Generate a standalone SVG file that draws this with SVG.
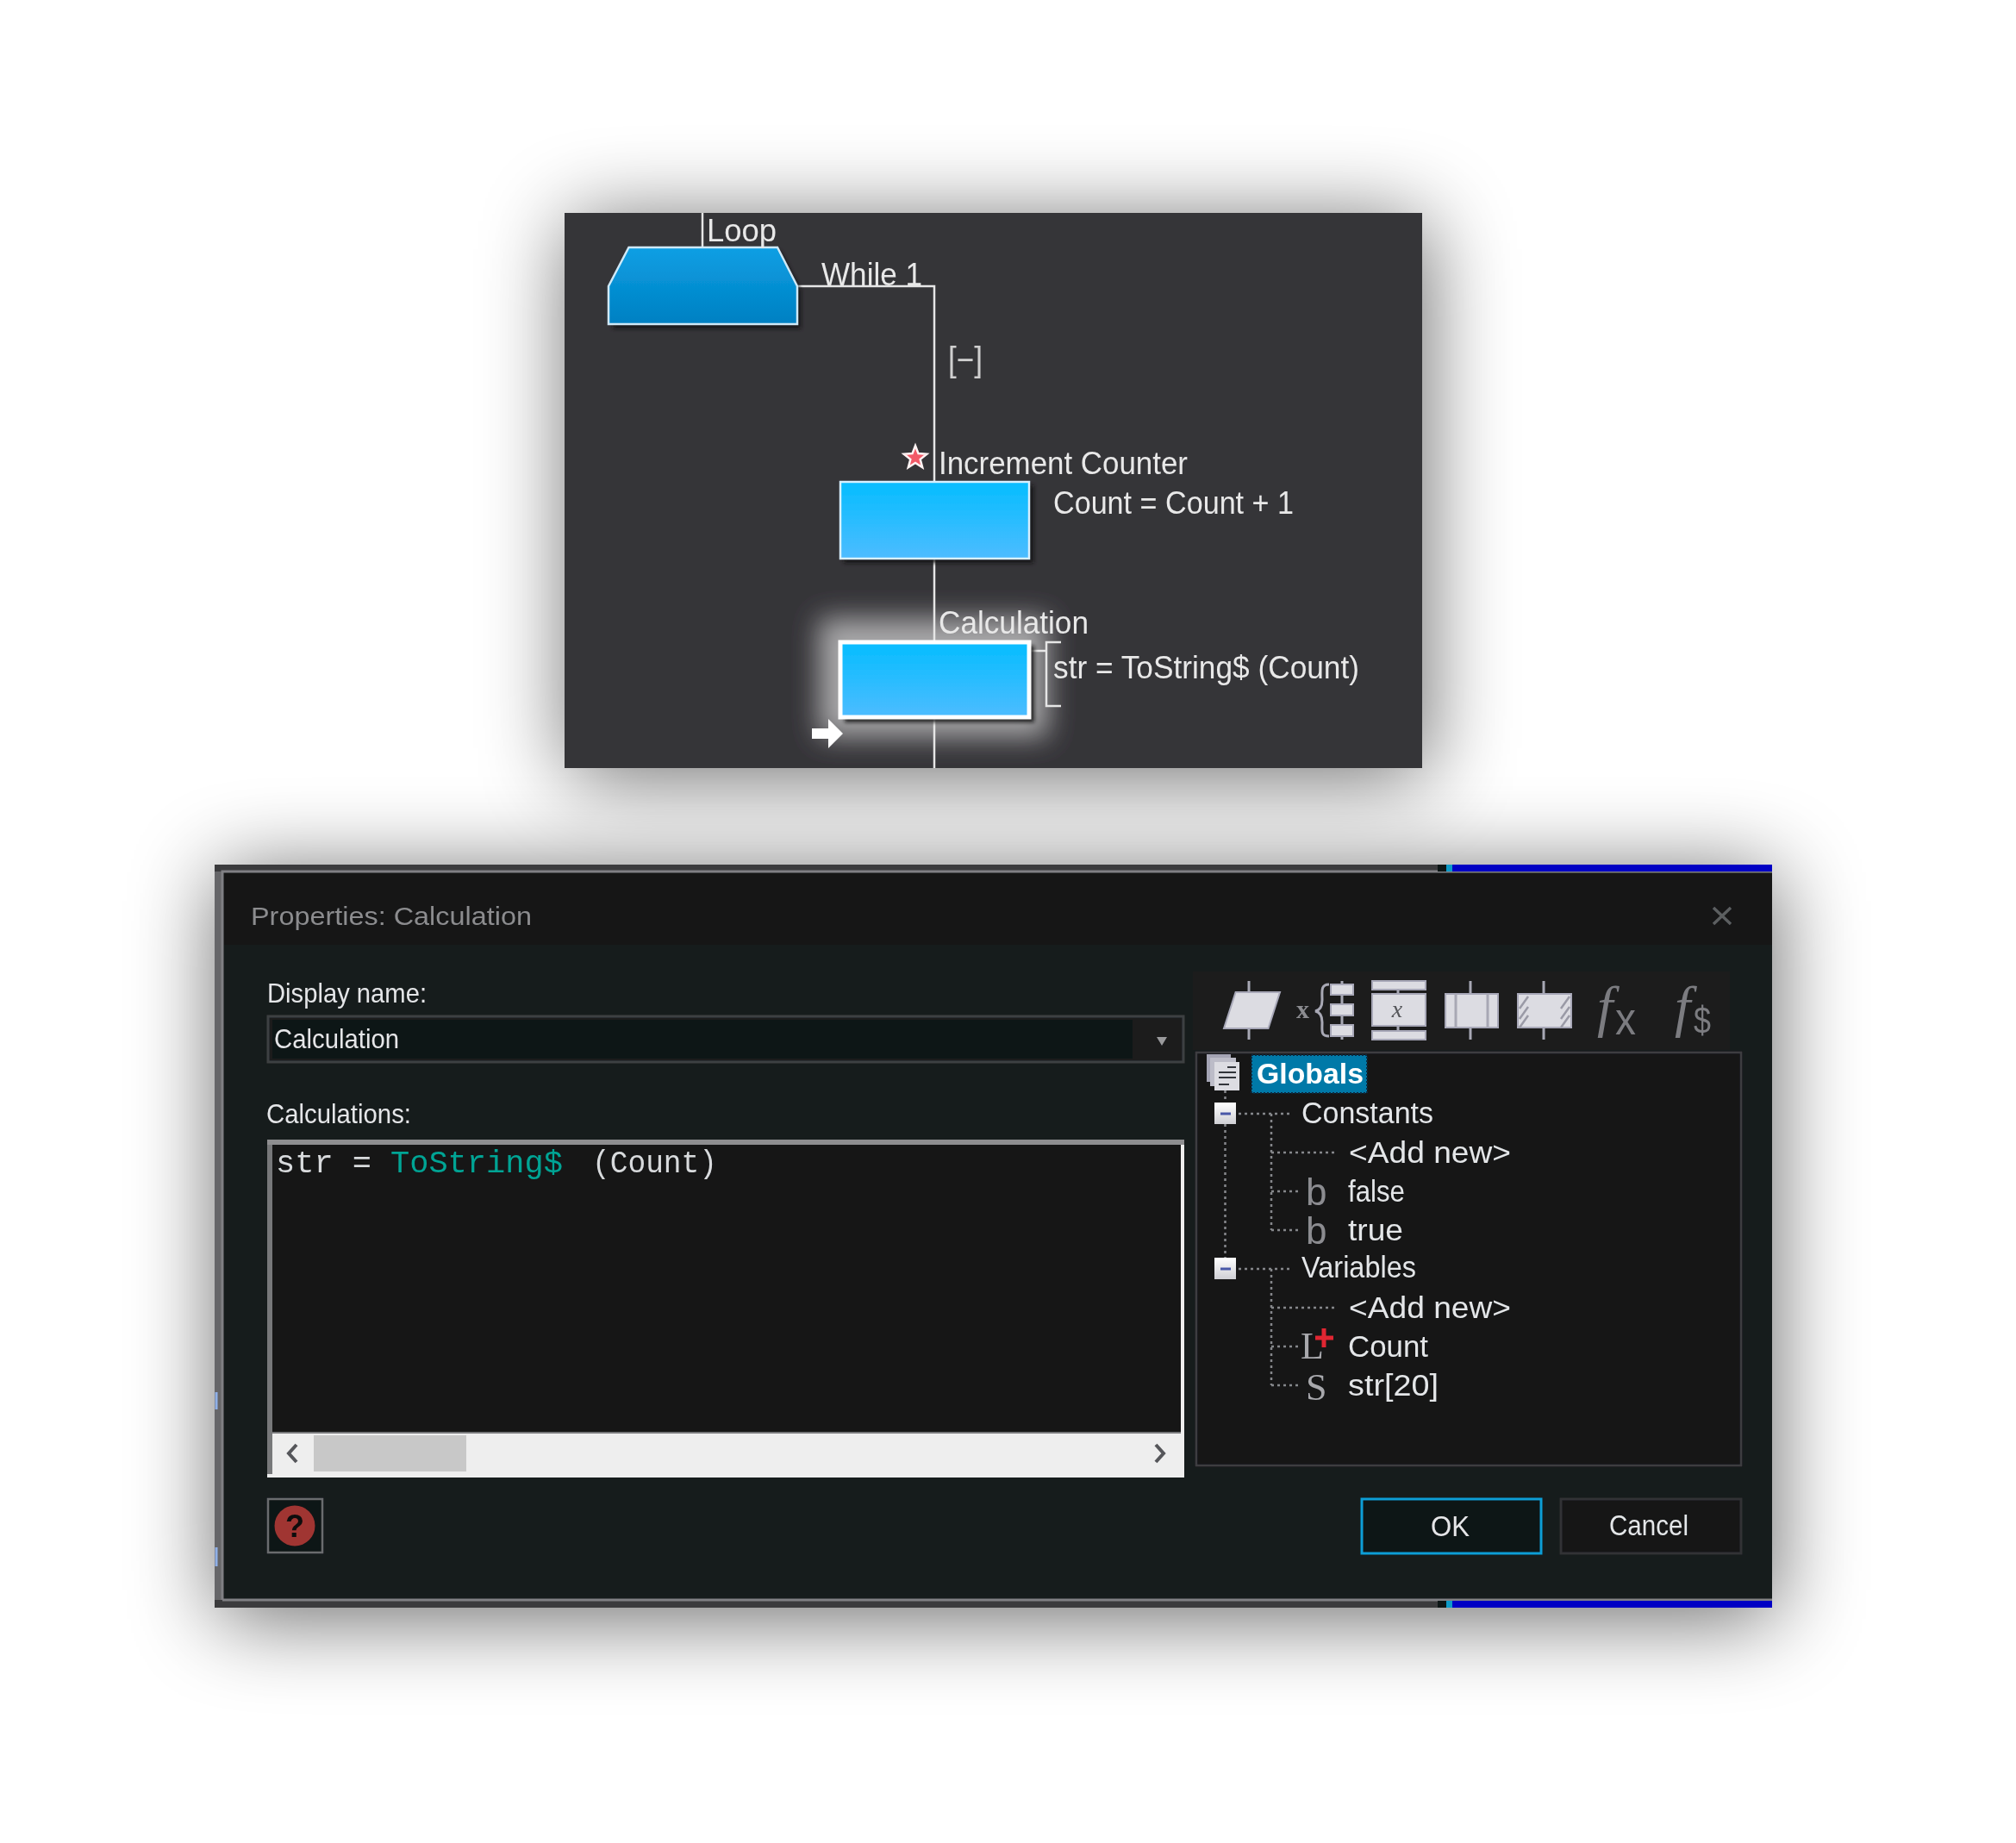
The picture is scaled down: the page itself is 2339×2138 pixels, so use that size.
<svg xmlns="http://www.w3.org/2000/svg" width="2339" height="2138" viewBox="0 0 2339 2138">
<style>
.ui{font-family:"Liberation Sans",Arial,sans-serif;fill:#e4e6e8;font-size:35px}
.fl{font-family:"Liberation Sans",Arial,sans-serif;fill:#e8e8e8;font-size:36px}
.ic{font-family:"Liberation Serif","Times New Roman",serif;fill:#8c8c90}
.is{font-family:"Liberation Sans",Arial,sans-serif;fill:#7c7c80}
.mono{font-family:"Liberation Mono","Courier New",monospace;font-size:37px;fill:#d8dadc}
.tk{stroke:#a8a8b4;stroke-width:3;fill:none}
.pale{fill:#dcdce2;stroke:#a8a8b8;stroke-width:2}
.dot{stroke:#85878a;stroke-width:2.500;stroke-dasharray:3 4;fill:none}
.conn{stroke:#e6e6e6;stroke-width:2.500;fill:none}
</style>
<defs>
<filter id="sh" x="-30%" y="-40%" width="160%" height="180%"><feGaussianBlur stdDeviation="50"/></filter>
<filter id="gl" x="-30%" y="-40%" width="160%" height="180%"><feGaussianBlur stdDeviation="16"/></filter>
<filter id="ss" x="-20%" y="-20%" width="140%" height="140%"><feGaussianBlur stdDeviation="2"/></filter>
<filter id="soft" x="-2%" y="-2%" width="104%" height="104%"><feGaussianBlur stdDeviation="0.7"/></filter>
<linearGradient id="g1" x1="0" y1="0" x2="0" y2="1"><stop offset="0" stop-color="#0c9fe4"/><stop offset="1" stop-color="#0080c2"/></linearGradient>
<linearGradient id="g2" x1="0" y1="0" x2="0" y2="1"><stop offset="0" stop-color="#05bdff"/><stop offset="1" stop-color="#4dbcff"/></linearGradient>
<linearGradient id="g3" x1="0" y1="0" x2="0" y2="1"><stop offset="0" stop-color="#ffffff"/><stop offset="1" stop-color="#cfcfd4"/></linearGradient>
</defs>
<rect width="2339" height="2138" fill="#ffffff"/>
<rect x="660" y="256" width="995" height="645" fill="#000" opacity="0.58" filter="url(#sh)"/>
<rect x="252" y="1012" width="1808" height="866" fill="#000" opacity="0.58" filter="url(#sh)"/>

<g id="flowchart" filter="url(#soft)">
<rect x="655" y="247" width="995" height="644" fill="#353438"/>
<rect x="950" y="717" width="266" height="138" fill="#f0f0f0" opacity="0.62" filter="url(#gl)"/>
<g id="connectors">
<path class="conn" d="M815 247V288"/>
<path class="conn" d="M925 332H1084V559"/>
<path class="conn" d="M1084 648V744"/>
<path class="conn" d="M1084 832V891"/>
<path class="conn" stroke-width="2" d="M1194 755H1213M1231 745H1214V819H1231"/>
</g>
<g id="node-loop">
<path d="M733 291H905L929 336V381H711V336Z" fill="#141416" opacity="0.85" filter="url(#ss)"/>
<path d="M729.500 287H902L925 332V376H706V332Z" fill="url(#g1)" stroke="#cfe9f7" stroke-width="2.500"/>
<text class="fl" x="820" y="280" textLength="81" lengthAdjust="spacingAndGlyphs">Loop</text>
<text class="fl" x="953" y="331" textLength="117" lengthAdjust="spacingAndGlyphs">While 1</text>
</g>
<text class="fl" x="1100" y="431" style="font-size:40px;fill:#cfcfcf" textLength="40" lengthAdjust="spacingAndGlyphs">[−]</text>
<g id="node-increment">
<rect x="979" y="563" width="220" height="90" fill="#141416" opacity="0.85" filter="url(#ss)"/>
<rect x="975" y="559" width="219" height="89" fill="url(#g2)" stroke="#d8f0ff" stroke-width="2.500"/>
<polygon points="1062,517 1065.500,526.100 1075.300,526.700 1067.700,532.900 1070.200,542.300 1062,537 1053.800,542.300 1056.300,532.900 1048.700,526.700 1058.500,526.100" fill="#f25a68" stroke="#fff4f4" stroke-width="2.500"/>
<text class="fl" x="1089" y="550" textLength="289" lengthAdjust="spacingAndGlyphs">Increment Counter</text>
<text class="fl" x="1222" y="596" textLength="279" lengthAdjust="spacingAndGlyphs">Count = Count + 1</text>
</g>
<g id="node-calculation">
<rect x="980" y="749" width="220" height="89" fill="#141416" opacity="0.85" filter="url(#ss)"/>
<rect x="975" y="745" width="219" height="87" fill="url(#g2)" stroke="#ffffff" stroke-width="5"/>
<text class="fl" x="1089" y="735" textLength="174" lengthAdjust="spacingAndGlyphs">Calculation</text>
<text class="fl" x="1222" y="787" textLength="355" lengthAdjust="spacingAndGlyphs">str = ToString$ (Count)</text>
<polygon points="942,845 961,845 961,834 978,851 961,868 961,857 942,857" fill="#ffffff"/>
</g>
</g>

<g id="dialog" filter="url(#soft)">
<rect x="249" y="1003" width="1807" height="862" fill="#3b3b3e"/>
<rect x="258" y="1011" width="1798" height="845" fill="#181a1c"/>
<rect x="249" y="1011" width="9" height="845" fill="#8a8a8c" opacity="0.55"/>
<path d="M258 1856V1011H2056M258 1856H2056" stroke="#808084" stroke-width="3" fill="none"/>
<rect x="1668" y="1003" width="17" height="8" fill="#101214"/>
<rect x="1678" y="1003" width="7" height="8" fill="#0a9ac8"/>
<rect x="1685" y="1003" width="371" height="8" fill="#0000c4"/>
<rect x="1668" y="1857" width="17" height="8" fill="#101214"/>
<rect x="1678" y="1857" width="7" height="8" fill="#0a9ac8"/>
<rect x="1685" y="1857" width="371" height="8" fill="#0000c4"/>
<rect x="260" y="1013" width="1796" height="83" fill="#131517"/>
<path d="M251 1615v20M251 1795v22" stroke="#8fb0e8" stroke-width="3" fill="none"/>
<text class="ui" x="291" y="1073" style="fill:#8c8c8e;font-size:30px" textLength="326" lengthAdjust="spacingAndGlyphs">Properties: Calculation</text>
<path d="M1988 1053l20 19M2008 1053l-20 19" stroke="#5c5e60" stroke-width="3.500" fill="none"/>

<text class="ui" x="310" y="1163" style="font-size:32px" textLength="185" lengthAdjust="spacingAndGlyphs">Display name:</text>
<rect x="311" y="1179" width="1062" height="53" fill="#1a1c1e" stroke="#3e4042" stroke-width="3"/>
<rect x="316" y="1183" width="998" height="45" fill="#111214"/>
<polygon points="1342,1203 1354,1203 1348,1213" fill="#9a9a9c"/>
<text class="ui" x="318" y="1216" style="font-size:32px" textLength="145" lengthAdjust="spacingAndGlyphs">Calculation</text>
<text class="ui" x="309" y="1303" style="font-size:32px" textLength="168" lengthAdjust="spacingAndGlyphs">Calculations:</text>

<rect x="310" y="1322" width="1064" height="392" fill="#eeeeee"/>
<rect x="310" y="1322" width="1064" height="6" fill="#8e8e90"/>
<rect x="310" y="1328" width="6" height="382" fill="#77787a"/>
<rect x="316" y="1328" width="1054" height="334" fill="#141618"/>
<rect x="316" y="1661" width="1054" height="2" fill="#77787a"/>
<rect x="364" y="1665" width="177" height="42" fill="#c8c8c8"/>
<path d="M344 1676l-9 10 9 10" stroke="#55565a" stroke-width="4" fill="none"/>
<path d="M1341 1676l9 10-9 10" stroke="#55565a" stroke-width="4" fill="none"/>
<text class="mono" x="320" y="1360">str =</text>
<text class="mono" x="453" y="1360" style="fill:#00a494">ToString$</text>
<text class="mono" x="687" y="1360" textLength="145" lengthAdjust="spacingAndGlyphs">(Count)</text>

<rect x="311" y="1739" width="63" height="62" fill="#111416" stroke="#6a6c6e" stroke-width="2.500"/>
<circle cx="342" cy="1770" r="23.500" fill="#a03532"/>
<text x="342" y="1783" text-anchor="middle" font-family="Liberation Sans, Arial, sans-serif" font-weight="700" font-size="36" fill="#0c0c0c">?</text>

<rect x="1384" y="1127" width="623" height="91" fill="#1b1d1f"/>
<rect x="1388" y="1221" width="632" height="479" fill="#141618" stroke="#3c3e40" stroke-width="2.500"/>

<g id="toolbar">
<path class="tk" d="M1449 1138V1206"/>
<polygon class="pale" points="1433.600,1151 1485,1151 1471.500,1193 1420,1193"/>
<text class="ic" x="1504" y="1181" font-size="30" font-weight="700">x</text>
<path class="tk" d="M1542 1142c-10 0-8 8-8 18 0 8-3 12-8 13 5 1 8 5 8 13 0 10-2 16 8 16"/>
<path class="tk" d="M1557 1138V1206"/>
<rect class="pale" x="1544" y="1142" width="26" height="12"/>
<rect class="pale" x="1544" y="1165" width="26" height="13"/>
<rect class="pale" x="1544" y="1189" width="26" height="13"/>
<path class="tk" d="M1622 1148V1153M1622 1190V1195"/>
<rect class="pale" x="1592" y="1138" width="62" height="10"/>
<rect class="pale" x="1592" y="1153" width="62" height="37"/>
<rect class="pale" x="1592" y="1196" width="62" height="10"/>
<text class="ic" x="1621" y="1180" text-anchor="middle" font-size="28" font-style="italic" style="fill:#55565a">x</text>
<path class="tk" d="M1706 1138V1206"/>
<rect class="pale" x="1677" y="1153" width="61" height="39"/>
<path class="tk" d="M1689 1153V1192M1726 1153V1192"/>
<path class="tk" d="M1791 1138V1206"/>
<rect class="pale" x="1761" y="1153" width="62" height="39"/>
<path d="M1763 1170l10-14M1763 1182l10-14M1763 1192l10-14M1811 1170l10-14M1811 1182l10-14M1811 1192l10-14" stroke="#9a9aa6" stroke-width="2.500" fill="none"/>
<text class="ic" x="1853" y="1190" font-size="66" font-style="italic" style="fill:#7c7c80">f</text>
<text class="is" x="1874" y="1200" font-size="54" textLength="24" lengthAdjust="spacingAndGlyphs">x</text>
<text class="ic" x="1943" y="1190" font-size="66" font-style="italic" style="fill:#7c7c80">f</text>
<text class="is" x="1965" y="1199" font-size="44" textLength="20" lengthAdjust="spacingAndGlyphs">$</text>
</g>

<g id="tree">
<path class="dot" d="M1421.500 1265V1279M1421.500 1304V1459"/>
<path class="dot" d="M1437 1292H1497M1475 1292V1427M1475 1337H1550M1475 1382H1506M1475 1427H1506"/>
<path class="dot" d="M1437 1472H1497M1475 1472V1607M1475 1517H1550M1475 1562H1506M1475 1607H1506"/>
<rect x="1400" y="1223" width="28" height="32" fill="#a4a4b4"/>
<rect x="1404" y="1227" width="30" height="33" fill="#bcbcc8"/>
<rect x="1409" y="1232" width="29" height="33" fill="#dcdce2"/>
<path d="M1424 1238h10M1414 1244h20M1414 1250h20M1414 1258h12" stroke="#33343a" stroke-width="2" fill="none"/>
<rect x="1452" y="1224" width="134" height="44" fill="#0079a8" stroke="#0a2a40" stroke-width="2" stroke-dasharray="2 2"/>
<text class="ui" x="1458" y="1257" font-weight="700" style="font-size:34px;fill:#ffffff" textLength="124" lengthAdjust="spacingAndGlyphs">Globals</text>
<rect x="1409" y="1279" width="25" height="25" fill="url(#g3)"/>
<path d="M1416 1292h12" stroke="#4a58a8" stroke-width="3" fill="none"/>
<text class="ui" x="1510" y="1303" textLength="153" lengthAdjust="spacingAndGlyphs">Constants</text>
<text class="ui" x="1565" y="1349" textLength="188" lengthAdjust="spacingAndGlyphs">&lt;Add new&gt;</text>
<text class="is" x="1515" y="1398" font-size="44" style="fill:#8c8c90">b</text>
<text class="ui" x="1564" y="1394" textLength="66" lengthAdjust="spacingAndGlyphs">false</text>
<text class="is" x="1515" y="1443" font-size="44" style="fill:#8c8c90">b</text>
<text class="ui" x="1564" y="1439" textLength="64" lengthAdjust="spacingAndGlyphs">true</text>
<rect x="1409" y="1459" width="25" height="25" fill="url(#g3)"/>
<path d="M1416 1472h12" stroke="#4a58a8" stroke-width="3" fill="none"/>
<text class="ui" x="1510" y="1482" textLength="133" lengthAdjust="spacingAndGlyphs">Variables</text>
<text class="ui" x="1565" y="1529" textLength="188" lengthAdjust="spacingAndGlyphs">&lt;Add new&gt;</text>
<text class="ic" x="1509" y="1576" font-size="44" style="fill:#a8a8ac">L</text>
<path d="M1536 1541v22M1526 1552h21" stroke="#e02830" stroke-width="5" fill="none"/>
<text class="ui" x="1564" y="1574" textLength="93" lengthAdjust="spacingAndGlyphs">Count</text>
<text class="ic" x="1515" y="1624" font-size="44" style="fill:#a8a8ac">S</text>
<text class="ui" x="1564" y="1619" textLength="105" lengthAdjust="spacingAndGlyphs">str[20]</text>
</g>

<rect x="1580" y="1739" width="208" height="63" fill="#111214" stroke="#0a9ed6" stroke-width="3"/>
<text class="ui" x="1660" y="1782" style="font-size:33px" textLength="45" lengthAdjust="spacingAndGlyphs">OK</text>
<rect x="1811" y="1739" width="209" height="63" fill="#121416" stroke="#303234" stroke-width="3"/>
<text class="ui" x="1867" y="1781" style="font-size:33px" textLength="92" lengthAdjust="spacingAndGlyphs">Cancel</text>
</g>
</svg>
